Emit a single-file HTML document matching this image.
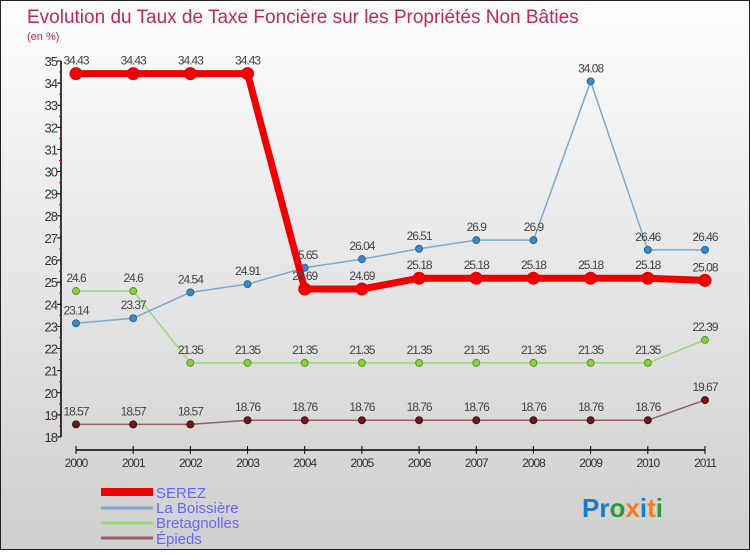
<!DOCTYPE html>
<html><head><meta charset="utf-8"><style>
html,body{margin:0;padding:0}
body{width:750px;height:550px;overflow:hidden;font-family:"Liberation Sans",sans-serif}
</style></head><body>
<svg id="chart" width="750" height="550" xmlns="http://www.w3.org/2000/svg">
<defs><linearGradient id="bg" x1="0" y1="0" x2="0" y2="1"><stop offset="0" stop-color="#fdfdfd"/><stop offset="1" stop-color="#cfcfcf"/></linearGradient></defs>
<rect x="0" y="0" width="750" height="550" fill="url(#bg)" stroke="#222" stroke-width="2"/>
<text x="27" y="23" font-size="19" fill="#c2275a">Evolution du Taux de Taxe Foncière sur les Propriétés Non Bâties</text>
<text x="27" y="40" font-size="11" fill="#c2275a">(en %)</text>
<g id="axes"></g><g id="series"></g>
<g>
<rect x="101" y="488" width="52" height="8" fill="#ee0000"/>
<text x="156" y="498" font-size="15" fill="#6666ff">SEREZ</text>
<line x1="101" y1="508" x2="153" y2="508" stroke="#7aaad0" stroke-width="3"/>
<text x="156" y="513" font-size="15" fill="#6666ff">La Boissière</text>
<line x1="101" y1="523" x2="153" y2="523" stroke="#99d97a" stroke-width="3"/>
<text x="156" y="528" font-size="15" fill="#6666ff">Bretagnolles</text>
<line x1="101" y1="538" x2="153" y2="538" stroke="#946060" stroke-width="3"/>
<text x="156" y="544" font-size="15" fill="#6666ff">Épieds</text>
</g>
<text x="582" y="517" font-size="26" font-weight="bold"><tspan fill="#1a7ac8">Pr</tspan><tspan fill="#2a9a3a">o</tspan><tspan fill="#f08020">x</tspan><tspan fill="#1a7ac8">i</tspan><tspan fill="#f08020">t</tspan><tspan fill="#2a9a3a">i</tspan></text>
</svg>
<script>
const years=["2000","2001","2002","2003","2004","2005","2006","2007","2008","2009","2010","2011"];
const yTicks=[18,19,20,21,22,23,24,25,26,27,28,29,30,31,32,33,34,35];
const serez=[34.43,34.43,34.43,34.43,24.69,24.69,25.18,25.18,25.18,25.18,25.18,25.08];
const boissiere=[23.14,23.37,24.54,24.91,25.65,26.04,26.51,26.9,26.9,34.08,26.46,26.46];
const bretagnolles=[24.6,24.6,21.35,21.35,21.35,21.35,21.35,21.35,21.35,21.35,21.35,22.39];
const epieds=[18.57,18.57,18.57,18.76,18.76,18.76,18.76,18.76,18.76,18.76,18.76,19.67];
const NS="http://www.w3.org/2000/svg";
const X0=76,XS=(705-76)/11,Y0=437,YS=376/17;
const xf=i=>X0+i*XS, yf=v=>Y0-(v-18)*YS;
function mk(p,t,a){const e=document.createElementNS(NS,t);for(const k in a)e.setAttribute(k,a[k]);p.appendChild(e);return e;}
const ax=document.getElementById('axes');
const yl=mk(ax,'line',{x1:61,y1:yf(35),x2:61,y2:yf(18),stroke:'#000','stroke-width':1.5});


yTicks.forEach(v=>{
  mk(ax,'line',{x1:57,y1:yf(v),x2:61,y2:yf(v),stroke:'#000'});
  if(v<35) mk(ax,'line',{x1:59,y1:yf(v+0.5),x2:61,y2:yf(v+0.5),stroke:'#e00'});
  const t=mk(ax,'text',{x:57,y:yf(v)+5,'font-size':13,'text-anchor':'end',fill:'#333','letter-spacing':'-1'});
  
  
  t.textContent=v;
});
const xl=mk(ax,'line',{x1:xf(0),y1:450,x2:xf(11),y2:450,stroke:'#000','stroke-width':1.5});


years.forEach((y,i)=>{
  mk(ax,'line',{x1:xf(i),y1:446,x2:xf(i),y2:454,stroke:'#000'});
  const t=mk(ax,'text',{x:xf(i),y:467,'font-size':12,'text-anchor':'middle',fill:'#333','letter-spacing':'-1'});
  
  
  t.textContent=y;
});
const sg=document.getElementById('series');
function draw(name,vals,color,w,r,fill,stroke){
  const g=mk(sg,'g',{});
  
  
  const pl=mk(g,'polyline',{points:vals.map((v,i)=>xf(i)+','+yf(v)).join(' '),fill:'none',stroke:color,'stroke-width':w,'stroke-linejoin':'round'});
  
  
  vals.forEach((v,i)=>{
    const c=mk(g,'circle',{cx:xf(i),cy:yf(v),r:r,fill:fill,stroke:stroke,'stroke-width':1});
    
    
    const t=mk(g,'text',{x:xf(i),y:yf(v)-9,'font-size':12,'text-anchor':'middle',fill:'#444','letter-spacing':'-1'});
    
    
    t.textContent=v;
  });
}
draw('epieds',epieds,'#946060',1.5,3.5,'#6a1a1a','#4a1010');
draw('bretagnolles',bretagnolles,'#99d97a',1.5,3.5,'#88d040','#5a9a2a');
draw('la-boissiere',boissiere,'#7aaad0',1.5,3.5,'#3a8ac8','#2a6a9a');
draw('serez',serez,'#ee0000',7,6,'#ee0000','#ee0000');
</script>
</body></html>
